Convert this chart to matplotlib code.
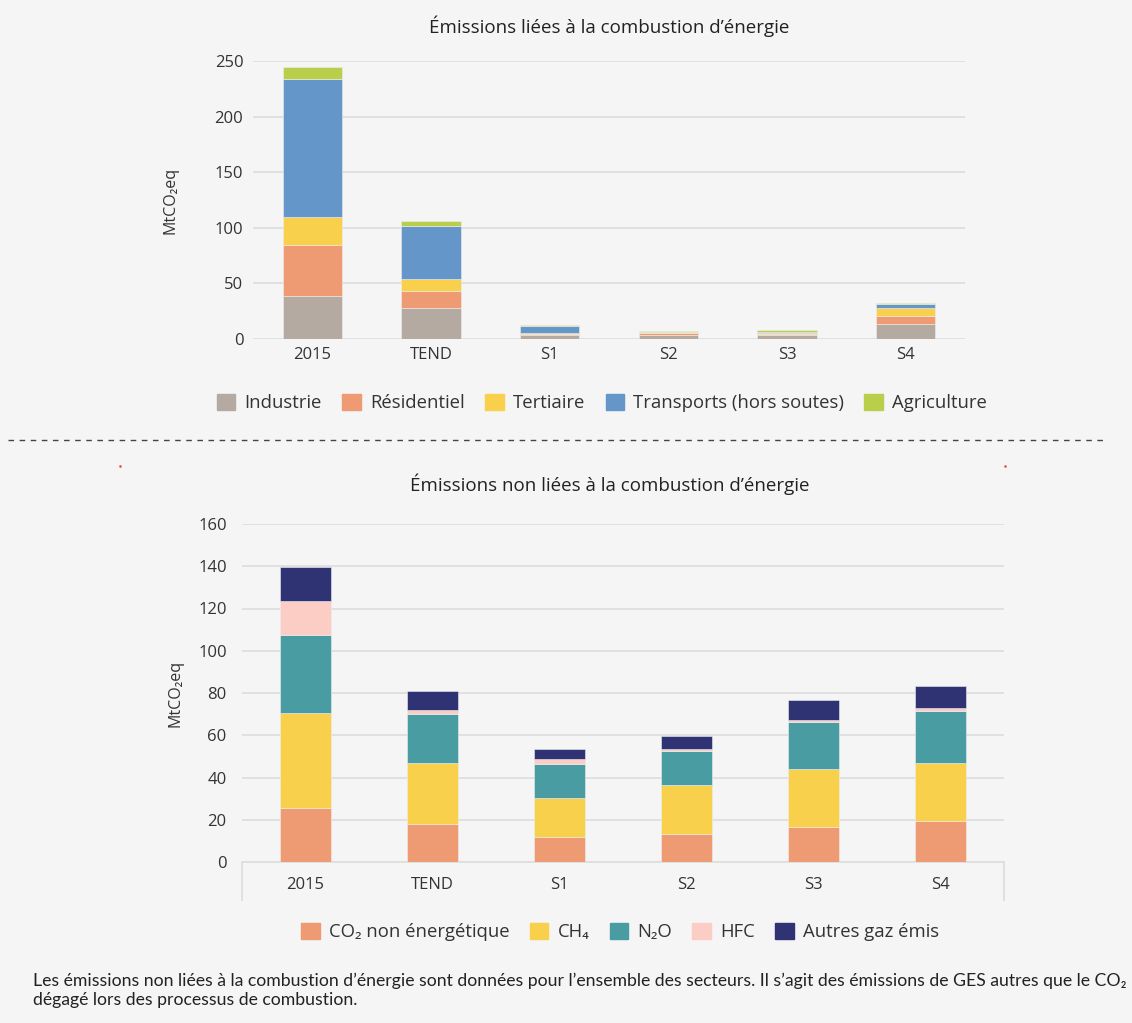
import numpy as np
from matplotlib import pyplot as plt
from matplotlib.patches import Patch
from matplotlib.lines import Line2D

plt.rcParams['font.family'] = ['Open Sans', 'DejaVu Sans']

categories = ['2015', 'TEND', 'S1', 'S2', 'S3', 'S4']

# emissions liees a la combustion (MtCO2eq)
industrie = [39, 28, 3.5, 3.9, 3.6, 13.8]
residentiel = [45.5, 15, 1.3, 1.2, 0.9, 6.5]
tertiaire = [25, 10.6, 0.6, 0.9, 0.9, 7.2]
transports = [124.5, 48, 6, 0.3, 0.9, 4]
agriculture = [11, 4.2, 1.5, 1.3, 1.5, 1.1]

# emissions non liees a la combustion (MtCO2eq)
co2_non_energ = [25.4, 18.1, 12.0, 13.4, 16.7, 19.6]
ch4 = [45.0, 28.6, 18.1, 23.2, 27.5, 27.4]
n2o = [36.9, 23.2, 16.3, 15.9, 22.2, 24.6]
hfc = [16.1, 2.2, 2.2, 1.0, 0.7, 1.3]
autres_gaz = [16.1, 8.7, 5.0, 6.0, 9.6, 10.4]

labels_haut = ['Industrie', 'Résidentiel', 'Tertiaire',
               'Transports (hors soutes)', 'Agriculture']
couleurs_haut = ['#b5aaa1', '#ee9a72', '#f8d04c', '#6496c9', '#b9cf4b']
labels_bas = ['CO₂ non énergétique', 'CH₄', 'N₂O', 'HFC', 'Autres gaz émis']
couleurs_bas = ['#ee9a72', '#f8d04c', '#4a9ca3', '#fbcdc5', '#2f3374']

FOND = '#f5f5f5'
TEXTE = '#333333'
GRILLE = '#dedede'
W, H = 1132, 1023


def px_box(x0, y0, x1, y1):
    return [x0 / W, 1 - y1 / H, (x1 - x0) / W, (y1 - y0) / H]


def barres_empilees(ax, series, couleurs, largeur):
    x = np.arange(len(categories))
    bas = np.zeros(len(categories))
    for valeurs, c in zip(series, couleurs):
        ax.bar(x, valeurs, largeur, bottom=bas, color=c,
               edgecolor='#eeeeee', linewidth=0.4, zorder=3)
        bas = bas + np.array(valeurs)
    ax.set_xlim(-0.5, len(categories) - 0.5)
    ax.set_xticks(x)
    ax.set_xticklabels(categories)


def style_axe(ax, ymax, pas, xpad):
    ax.set_facecolor(FOND)
    ax.set_ylim(0, ymax)
    ax.set_yticks(np.arange(0, ymax + 1, pas))
    ax.grid(axis='y', color=GRILLE, linewidth=1.3, zorder=0)
    for s in ['top', 'right', 'left', 'bottom']:
        ax.spines[s].set_visible(False)
    ax.tick_params(axis='y', length=0, pad=7, labelsize=12, labelcolor=TEXTE)
    ax.tick_params(axis='x', length=0, pad=xpad, labelsize=12, labelcolor=TEXTE)
    ax.set_ylabel('MtCO₂eq', fontsize=11.5, color=TEXTE)


def main():
    fig = plt.figure(figsize=(W / 100, H / 100), dpi=100, facecolor=FOND)

    # graphique du haut
    ax1 = fig.add_axes(px_box(253, 61, 965, 339))
    barres_empilees(ax1, [industrie, residentiel, tertiaire, transports,
                          agriculture], couleurs_haut, 0.5)
    style_axe(ax1, 250, 50, 6)
    ax1.yaxis.set_label_coords(-0.105, 0.5)
    fig.text(609 / W, 1 - 26 / H, 'Émissions liées à la combustion d’énergie',
             ha='center', va='center', fontsize=13.5, color='#222222')
    poignees = [Patch(color=c) for c in couleurs_haut]
    fig.legend(poignees, labels_haut, loc='center', ncol=5, frameon=False,
               bbox_to_anchor=(602 / W, 1 - 403 / H), fontsize=13.3,
               handlelength=1.0, handleheight=1.0, handletextpad=0.5,
               columnspacing=1.1, labelcolor=TEXTE)

    # ligne pointillee de separation
    fig.add_artist(Line2D([8 / W, 1108 / W], [1 - 440 / H, 1 - 440 / H],
                          color='#444444', linewidth=1, linestyle=(0, (4, 4))))
    fig.add_artist(Line2D([120 / W, 1005 / W], [1 - 466 / H, 1 - 466 / H],
                          color='#e05050', linestyle='none', marker='s',
                          markersize=0.8))

    # graphique du bas
    ax2 = fig.add_axes(px_box(242, 524, 1004, 862))
    barres_empilees(ax2, [co2_non_energ, ch4, n2o, hfc, autres_gaz],
                    couleurs_bas, 0.4)
    style_axe(ax2, 160, 20, 11)
    ax2.tick_params(axis='y', pad=11)
    ax2.yaxis.set_label_coords(-0.077, 0.5)
    ax2.spines['bottom'].set_visible(True)
    ax2.spines['bottom'].set_color(GRILLE)
    ax2.spines['bottom'].set_linewidth(1.3)
    ax2.set_xticks([-0.5, len(categories) - 0.5], minor=True)
    ax2.tick_params(axis='x', which='minor', length=28, width=1.3,
                    color=GRILLE, direction='out')
    fig.text(610 / W, 1 - 484 / H, 'Émissions non liées à la combustion d’énergie',
             ha='center', va='center', fontsize=13.5, color='#222222')
    poignees = [Patch(color=c) for c in couleurs_bas]
    fig.legend(poignees, labels_bas, loc='center', ncol=5, frameon=False,
               bbox_to_anchor=(620 / W, 1 - 932 / H), fontsize=13.3,
               handlelength=1.0, handleheight=1.0, handletextpad=0.5,
               columnspacing=1.1, labelcolor=TEXTE)

    note = ('Les émissions non liées à la combustion d’énergie sont données pour '
            'l’ensemble des secteurs. Il s’agit des émissions de GES autres que le CO₂\n'
            'dégagé lors des processus de combustion.')
    fig.text(33 / W, 1 - 973 / H, note, ha='left', va='top', fontsize=12.7,
             color='#222222', linespacing=1.2, family=['Lato', 'DejaVu Sans'])

    fig.savefig('out.png', dpi=100, facecolor=FOND)


if __name__ == "__main__":
    main()
